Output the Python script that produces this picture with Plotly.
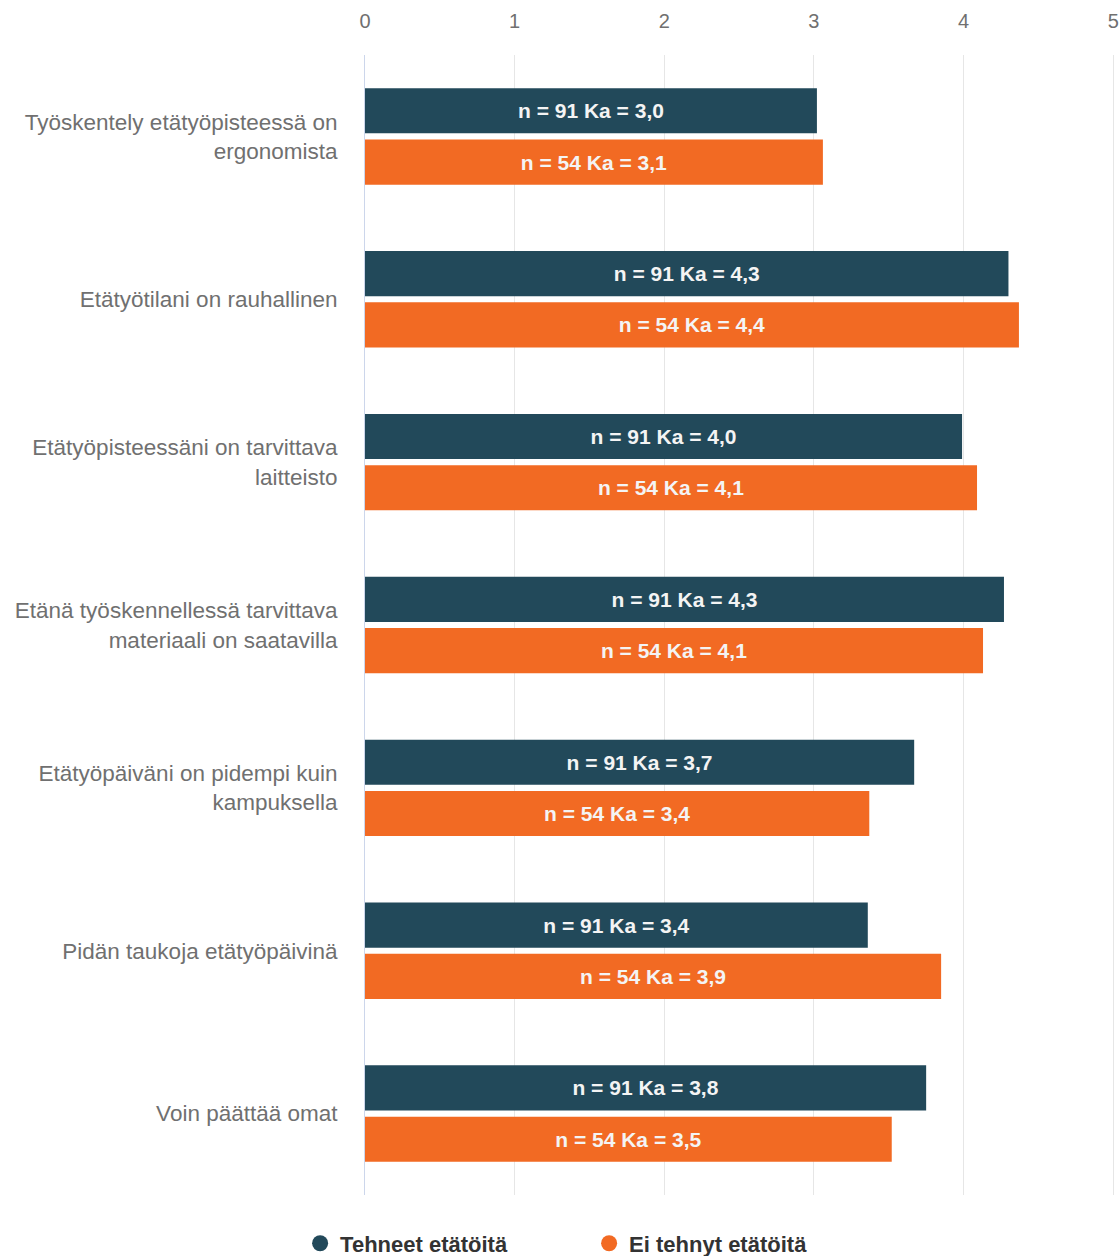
import plotly.graph_objects as go

categories = [
    "Työskentely etätyöpisteessä on<br>ergonomista",
    "Etätyötilani on rauhallinen",
    "Etätyöpisteessäni on tarvittava<br>laitteisto",
    "Etänä työskennellessä tarvittava<br>materiaali on saatavilla",
    "Etätyöpäiväni on pidempi kuin<br>kampuksella",
    "Pidän taukoja etätyöpäivinä",
    "Voin päättää omat",
]
series_names = ["Tehneet etätöitä", "Ei tehnyt etätöitä"]
tehneet = [3.02, 4.30, 3.99, 4.27, 3.67, 3.36, 3.75]
ei_tehnyt = [3.06, 4.37, 4.09, 4.13, 3.37, 3.85, 3.52]
tehneet_labels = ["n = 91 Ka = 3,0", "n = 91 Ka = 4,3", "n = 91 Ka = 4,0", "n = 91 Ka = 4,3",
                  "n = 91 Ka = 3,7", "n = 91 Ka = 3,4", "n = 91 Ka = 3,8"]
ei_labels = ["n = 54 Ka = 3,1", "n = 54 Ka = 4,4", "n = 54 Ka = 4,1", "n = 54 Ka = 4,1",
             "n = 54 Ka = 3,4", "n = 54 Ka = 3,9", "n = 54 Ka = 3,5"]
x_ticks = [0, 1, 2, 3, 4, 5]

NAVY = "#22495A"
ORANGE = "#F26A23"
FONT = "Liberation Sans, Arial, sans-serif"

fig = go.Figure()
for name, vals, labels, col in [
    (series_names[0], tehneet, tehneet_labels, NAVY),
    (series_names[1], ei_tehnyt, ei_labels, ORANGE),
]:
    fig.add_trace(go.Bar(
        y=categories, x=vals, orientation="h", name=name,
        marker=dict(color=col, line=dict(width=0)),
        text=labels, textposition="inside", insidetextanchor="middle",
        textfont=dict(color="#f4f4f4", size=21, family=FONT, weight="bold"),
        textangle=0, showlegend=False, hoverinfo="skip",
    ))
    fig.add_trace(go.Scatter(
        x=[None], y=[None], mode="markers", name=name,
        marker=dict(color=col, size=22, symbol="circle"),
        showlegend=True,
    ))

fig.update_layout(
    width=1120, height=1256,
    margin=dict(l=365, r=5, t=55, b=61),
    paper_bgcolor="white", plot_bgcolor="white",
    barmode="group", bargap=0.37, bargroupgap=0.12,
    font=dict(family=FONT, color="#666666"),
    uniformtext=dict(mode="show", minsize=10),
    legend=dict(
        orientation="h", xref="container", yref="container",
        x=0.526, xanchor="center", y=0.01, yanchor="middle",
        font=dict(size=22, color="#333333", family=FONT, weight="bold"),
        itemsizing="trace", entrywidth=244, entrywidthmode="pixels",
    ),
    xaxis=dict(
        side="top", range=[0, 5.012], tickvals=x_ticks, ticktext=[str(t) for t in x_ticks],
        showgrid=True, gridcolor="#e6e6e6", gridwidth=1,
        zeroline=False, showline=False, automargin=False,
        tickfont=dict(size=20, color="#707070"), ticklabelstandoff=22,
        fixedrange=True,
    ),
    yaxis=dict(
        autorange="reversed", showgrid=False, zeroline=False, automargin=False,
        showline=True, linecolor="#ccd6eb", linewidth=1,
        tickfont=dict(size=22.5, color="#707070"), ticklabelstandoff=22,
        fixedrange=True,
    ),
)

fig.write_html("out.html")
